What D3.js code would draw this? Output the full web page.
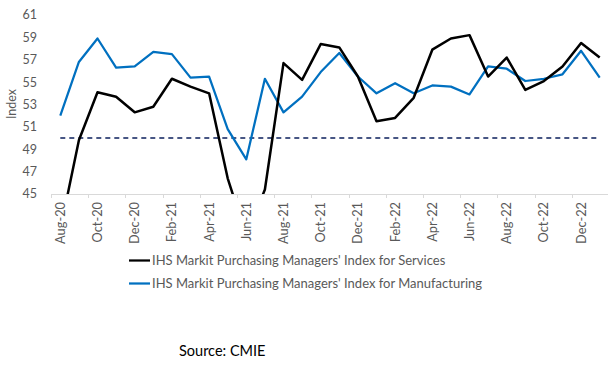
<!DOCTYPE html>
<html><head><meta charset="utf-8">
<script src="https://cdn.jsdelivr.net/npm/d3@7"></script>
<style>body{margin:0;background:#fff}svg{display:block}</style>
</head><body>
<svg id="c" width="609" height="366"></svg>
<script>
const months = ["Aug-20","Sep-20","Oct-20","Nov-20","Dec-20","Jan-21","Feb-21","Mar-21","Apr-21","May-21","Jun-21","Jul-21","Aug-21","Sep-21","Oct-21","Nov-21","Dec-21","Jan-22","Feb-22","Mar-22","Apr-22","May-22","Jun-22","Jul-22","Aug-22","Sep-22","Oct-22","Nov-22","Dec-22","Jan-23"];
const services = [41.8,49.8,54.1,53.7,52.3,52.8,55.3,54.6,54.0,46.4,41.2,45.4,56.7,55.2,58.4,58.1,55.5,51.5,51.8,53.6,57.9,58.9,59.2,55.5,57.2,54.3,55.1,56.4,58.5,57.2];
const manufacturing = [52.0,56.8,58.9,56.3,56.4,57.7,57.5,55.4,55.5,50.8,48.1,55.3,52.3,53.7,55.9,57.6,55.5,54.0,54.9,54.0,54.7,54.6,53.9,56.4,56.2,55.1,55.3,55.7,57.8,55.4];
const yTicks = [45,47,49,51,53,55,57,59,61];
const threshold = 50;
const seriesNames = ["IHS Markit Purchasing Managers' Index for Services","IHS Markit Purchasing Managers' Index for Manufacturing"];
const seriesColors = ["#000000","#0070C0"];

const svg = d3.select("#c");
const font = "Lato, 'Open Sans', sans-serif";
const x = d3.scaleBand().domain(months).range([51, 609]);
const y = d3.scaleLinear().domain([45, 61]).range([194, 15]);
const cx = d => x(d) + x.bandwidth()/2;

svg.append("defs").append("clipPath").attr("id","clip")
  .append("rect").attr("x",40).attr("y",0).attr("width",569).attr("height",194);

// Y axis labels
svg.append("g").selectAll("text").data(yTicks).join("text")
  .attr("x",37).attr("y",d=>y(d)).attr("dy","0.35em").attr("text-anchor","end")
  .attr("font-family",font).attr("font-size",12.5).attr("fill","#595959").text(d=>d);

svg.append("text").attr("transform","translate(16,104) rotate(-90)")
  .attr("text-anchor","middle").attr("font-family",font).attr("font-size",12.5)
  .attr("fill","#595959").text("Index");

// X axis
const xAxis = svg.append("g");
xAxis.append("line").attr("x1",51).attr("x2",608).attr("y1",194.5).attr("y2",194.5)
  .attr("stroke","#d9d9d9").attr("stroke-width",1);
const tickIdx = months.map((m,i)=>i).filter(i=>i%2===0);
xAxis.selectAll(".tk").data(tickIdx).join("line")
  .attr("x1",i=>Math.round(x(months[i]))+0.5).attr("x2",i=>Math.round(x(months[i]))+0.5)
  .attr("y1",194).attr("y2",198).attr("stroke","#d9d9d9");
xAxis.selectAll(".lb").data(tickIdx).join("text")
  .attr("transform",i=>`translate(${cx(months[i])+4.5},202) rotate(-90)`)
  .attr("text-anchor","end").attr("font-family",font).attr("font-size",12.8)
  .attr("fill","#595959").text(i=>months[i]);

// threshold dashed line
svg.append("line").attr("x1",cx(months[0])).attr("x2",cx(months[months.length-1]))
  .attr("y1",y(threshold)).attr("y2",y(threshold))
  .attr("stroke","#0B1F5C").attr("stroke-width",1.5).attr("stroke-dasharray","5,4");

const line = d3.line().x((d,i)=>cx(months[i])).y(d=>y(d));
const g = svg.append("g").attr("clip-path","url(#clip)");
g.append("path").datum(manufacturing).attr("d",line).attr("fill","none")
  .attr("stroke",seriesColors[1]).attr("stroke-width",2.25).attr("stroke-linejoin","round");
g.append("path").datum(services).attr("d",line).attr("fill","none")
  .attr("stroke",seriesColors[0]).attr("stroke-width",2.5).attr("stroke-linejoin","round");

// legend
const leg = svg.append("g");
[0,1].forEach(i=>{
  const ly = [260.5,283.5][i];
  leg.append("line").attr("x1",129).attr("x2",150).attr("y1",ly).attr("y2",ly)
    .attr("stroke",seriesColors[i]).attr("stroke-width",2.25);
  leg.append("text").attr("x",152).attr("y",ly).attr("dy","0.35em")
    .attr("font-family",font).attr("font-size",13).attr("fill","#595959").text(seriesNames[i]);
});

svg.append("text").attr("x",179).attr("y",351).attr("dy","0.35em")
  .attr("font-family",font).attr("font-size",14.5).attr("fill","#000").text("Source: CMIE");
</script>
</body></html>
